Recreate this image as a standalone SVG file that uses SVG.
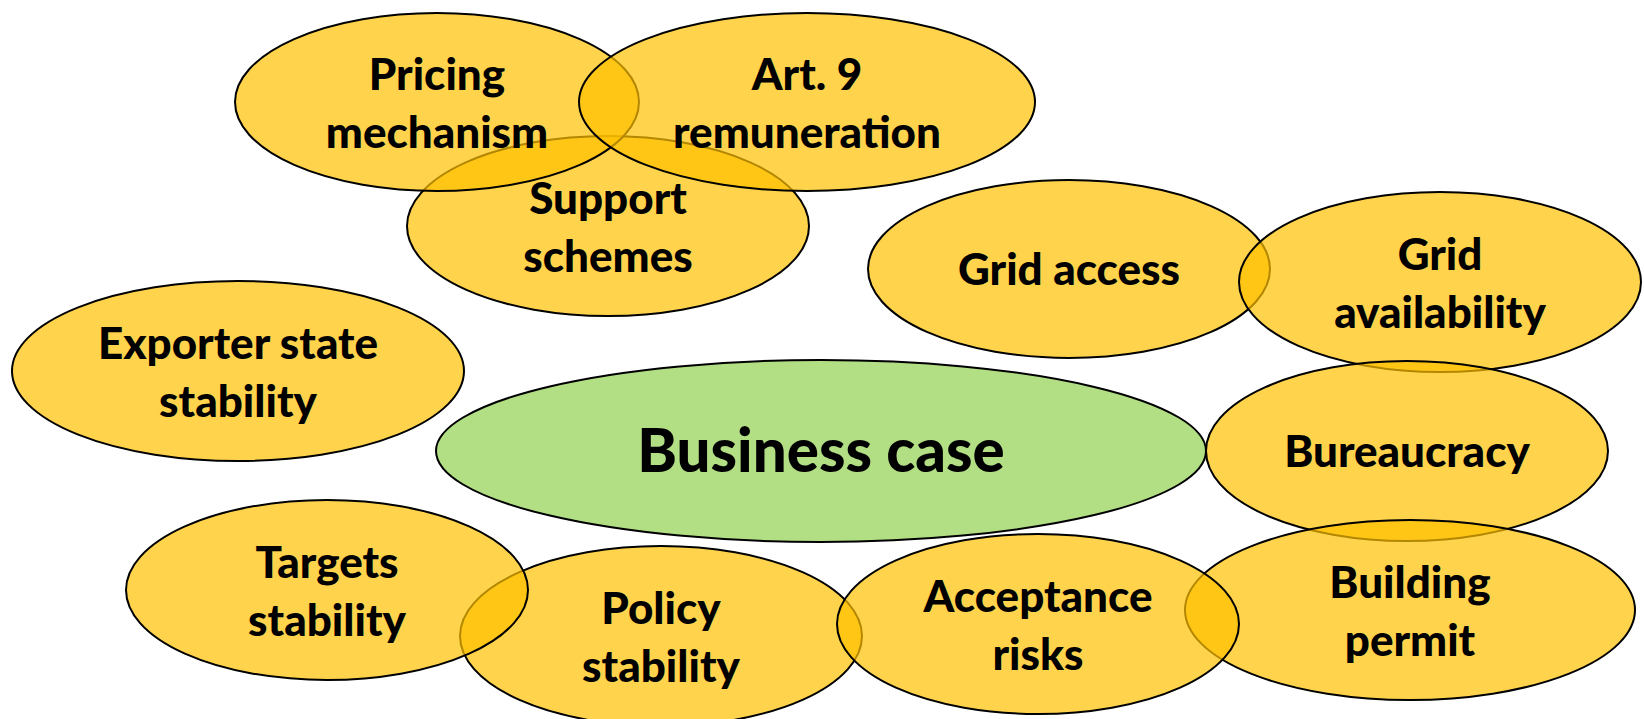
<svg xmlns="http://www.w3.org/2000/svg" width="1644" height="719" viewBox="0 0 1644 719">
<style>
.y{fill:#FFC000;fill-opacity:0.7;stroke:#000;stroke-width:2}
.g{fill:#92D050;fill-opacity:0.7;stroke:#000;stroke-width:2}
text{font-family:Lato,"Open Sans","Liberation Sans",sans-serif;font-weight:900;font-size:44px;fill:#000;text-anchor:middle}
.big{font-size:60px}
</style>
<rect width="1644" height="719" fill="#fff"/>
<g id="connectors"/>
<g id="support"><ellipse class="y" cx="608" cy="226" rx="201" ry="90"/><text x="608" y="214">Support</text><text x="608" y="272">schemes</text></g>
<g id="pricing"><ellipse class="y" cx="437" cy="102" rx="202" ry="89"/><text x="437" y="90">Pricing</text><text x="437" y="148">mechanism</text></g>
<g id="art9"><ellipse class="y" cx="807" cy="102" rx="228" ry="89"/><text x="807" y="90">Art. 9</text><text x="807" y="148">remuneration</text></g>
<g id="gridaccess"><ellipse class="y" cx="1069" cy="269" rx="201" ry="89"/><text x="1069" y="285">Grid access</text></g>
<g id="gridavail"><ellipse class="y" cx="1440" cy="282" rx="201" ry="90"/><text x="1440" y="270">Grid</text><text x="1440" y="328">availability</text></g>
<g id="bureaucracy"><ellipse class="y" cx="1407" cy="451" rx="201" ry="90"/><text x="1407" y="467">Bureaucracy</text></g>
<g id="building"><ellipse class="y" cx="1410" cy="610" rx="225" ry="90"/><text x="1410" y="598">Building</text><text x="1410" y="656">permit</text></g>
<g id="policy"><ellipse class="y" cx="661" cy="636" rx="201" ry="90"/><text x="661" y="624">Policy</text><text x="661" y="682">stability</text></g>
<g id="targets"><ellipse class="y" cx="327" cy="590" rx="201" ry="90"/><text x="327" y="578">Targets</text><text x="327" y="636">stability</text></g>
<g id="acceptance"><ellipse class="y" cx="1038" cy="624" rx="201" ry="90"/><text x="1038" y="612">Acceptance</text><text x="1038" y="670">risks</text></g>
<g id="exporter"><ellipse class="y" cx="238" cy="371" rx="226" ry="90"/><text x="238" y="359">Exporter state</text><text x="238" y="417">stability</text></g>
<g id="business"><ellipse class="g" cx="821" cy="451" rx="385" ry="91"/><text class="big" x="821" y="472">Business case</text></g>
</svg>
